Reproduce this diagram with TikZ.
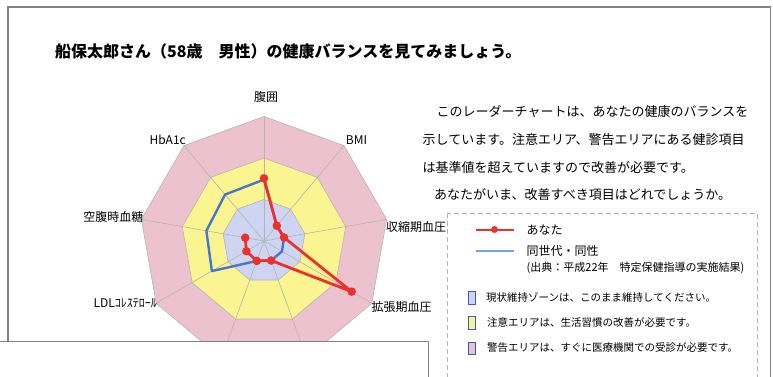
\documentclass[tikz,border=0pt]{standalone}
\usepackage{fontspec}
\setmainfont{Noto Sans CJK JP}
\usepackage{xcolor}
\usetikzlibrary{positioning,calc}
\definecolor{zonepink}{RGB}{237,194,207}
\definecolor{zoneyellow}{RGB}{250,245,145}
\definecolor{zoneblue}{RGB}{205,213,242}
\definecolor{gridgray}{RGB}{180,180,180}
\definecolor{youred}{RGB}{234,50,44}
\definecolor{avgblue}{RGB}{72,118,200}
\definecolor{keyblue}{RGB}{120,160,220}
\definecolor{boxblue}{RGB}{60,90,170}
\definecolor{framegray}{RGB}{130,130,130}

\begin{document}
\begin{tikzpicture}[x=1pt,y=1pt,
  every node/.style={inner sep=0pt},
  zonegrid/.style={draw=gridgray,line width=0.6pt},
  youline/.style={draw=youred,line width=2.8pt,line join=round},
  youdot/.style={fill=youred},
  avgline/.style={draw=avgblue,line width=2.4pt,line join=round},
  axislabel/.style={font=\fontsize{12}{14}\selectfont},
  bodytext/.style={font=\fontsize{13}{15}\selectfont,anchor=west},
  keytext/.style={font=\fontsize{12}{14}\selectfont,anchor=west},
  zonetext/.style={font=\fontsize{10.5}{12}\selectfont,anchor=west},
  zonekey/.style={draw=boxblue,line width=0.7pt,minimum width=7pt,minimum height=12.5pt}]
\useasboundingbox (0,0) rectangle (773,376);
\draw [framegray,line width=1.2pt] (8,-5) rectangle (770.5,369);
\node [anchor=west,font=\fontsize{16}{18}\selectfont\bfseries] (title) at (55,324.5) {船保太郎さん（58歳　男性）の健康バランスを見てみましょう。};
\begin{scope}[shift={(264,135)}]
\foreach \r/\c in {124.5/zonepink,83/zoneyellow,41.5/zoneblue}
  \filldraw [fill=\c,zonegrid] (90:\r) \foreach \k in {1,...,8}{ -- ({90-40*\k}:\r)} -- cycle;
\foreach \k in {0,...,8}
  \draw [zonegrid] (0,0) -- ({90-40*\k}:124.5);
\foreach \v [count=\k from 0] in {1.48,0.48,0.49,0.50,0.50,0.51,1.45,1.41,1.46}
  \coordinate (q\k) at ({90-40*\k}:{41.5*\v});
\foreach \v [count=\k from 0] in {1.51,0.48,0.49,2.44,0.50,0.51,0.49,0.46}
  \coordinate (p\k) at ({90-40*\k}:{41.5*\v});
\draw [avgline] (q0) -- (q1) -- (q2) -- (q3) -- (q4) -- (q5) -- (q6) -- (q7) -- (q8) -- cycle;
\draw [youline] (p0) -- (p1) -- (p2) -- (p3) -- (p4) -- (p5) -- (p6) -- (p7);
\foreach \k in {0,...,7}
  \fill [youdot] (p\k) circle (4.3);
\end{scope}
\node [axislabel] (waist) at (266,279.5) {腹囲};
\node [axislabel] (bmi) at (356.5,236) {BMI};
\node [axislabel,anchor=west] (sbp) at (386,149.5) {収縮期血圧};
\node [axislabel,anchor=west] (dbp) at (371.5,69.5) {拡張期血圧};
\node [axislabel,anchor=east] (ldl) at (157,73) {LDLｺﾚｽﾃﾛｰﾙ};
\node [axislabel,anchor=east] (fbs) at (143.5,159.5) {空腹時血糖};
\node [axislabel,anchor=east] (hba) at (186,236) {HbA1c};
\node [bodytext] (line1) at (436.5,264) {このレーダーチャートは、あなたの健康のバランスを};
\node [bodytext] (line2) at (422.5,236) {示しています。注意エリア、警告エリアにある健診項目};
\node [bodytext] (line3) at (422.5,208) {は基準値を超えていますので改善が必要です。};
\node [bodytext] (line4) at (434,181) {あなたがいま、改善すべき項目はどれでしょうか。};
\filldraw [fill=white,draw=gray!60,line width=0.8pt,dash pattern=on 5pt off 3pt] (447,163) rectangle (757,-5);
\coordinate (youa) at (475.5,146.5);
\coordinate (youb) at (513.5,146.5);
\draw [youred,line width=2pt] (youa) -- (youb);
\fill [youdot] ($(youa)!0.5!(youb)$) circle (3.5);
\node [keytext] (you) at (526.5,146) {あなた};
\coordinate (avga) at (475.5,125);
\coordinate (avgb) at (513.5,125);
\draw [keyblue,line width=1.6pt] (avga) -- (avgb);
\node [keytext] (avg) at (526.5,125) {同世代・同性};
\node [anchor=west,font=\fontsize{11}{13}\selectfont] (source) at (526.5,108.5) {(出典：平成22年　特定保健指導の実施結果)};
\node [zonekey,fill=zoneblue] (keep) at (471.5,78) {};
\node [zonetext] at (486,79) {現状維持ゾーンは、このまま維持してください。};
\node [zonekey,fill=zoneyellow] (care) at (471.5,53) {};
\node [zonetext] at (487,54) {注意エリアは、生活習慣の改善が必要です。};
\node [zonekey,fill=zonepink] (warn) at (471.5,27.5) {};
\node [zonetext] at (487,28) {警告エリアは、すぐに医療機関での受診が必要です。};
\filldraw [fill=white,draw=framegray,line width=1pt] (-5,35) rectangle (428,-5);
\end{tikzpicture}
\end{document}
